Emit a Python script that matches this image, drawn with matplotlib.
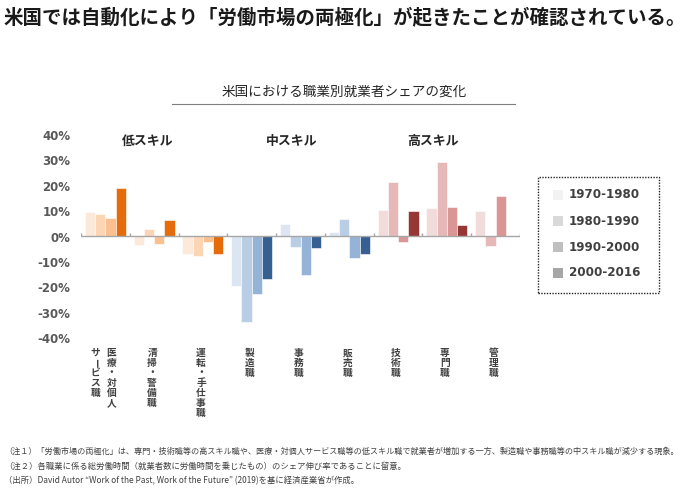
import numpy as np
import matplotlib.pyplot as plt
from matplotlib.patches import Rectangle
from matplotlib.lines import Line2D

plt.rcParams['font.family'] = ['Noto Sans CJK JP', 'DejaVu Sans']

# data (percent change of share)
occupations = ["医療・対個人\nサービス職", "清掃・警備職", "運転・手仕事職",
               "製造職", "事務職", "販売職",
               "技術職", "専門職", "管理職"]
periods = ["1970-1980", "1980-1990", "1990-2000", "2000-2016"]
share_1970_1980 = [9.8, -3.3, -6.9, -19.5, 5.0, 1.8, 10.6, 11.2, 10.1]
share_1980_1990 = [9.0, 3.0, -7.6, -33.6, -4.3, 6.8, 21.6, 29.5, -3.9]
share_1990_2000 = [7.3, -2.9, -2.1, -22.5, -15.3, -8.4, -2.0, 11.6, 15.9]
share_2000_2016 = [19.0, 6.5, -6.9, -16.9, -4.7, -6.9, 10.1, 4.4, 0.0]
skill_groups = ["低スキル", "中スキル", "高スキル"]
y_ticks = [-40, -30, -20, -10, 0, 10, 20, 30, 40]

title = "米国では自動化により「労働市場の両極化」が起きたことが確認されている。"
chart_title = "米国における職業別就業者シェアの変化"
notes = [
    "（注１）「労働市場の両極化」は、専門・技術職等の高スキル職や、医療・対個人サービス職等の低スキル職で就業者が増加する一方、製造職や事務職等の中スキル職が減少する現象。",
    "（注２）各職業に係る総労働時間（就業者数に労働時間を乗じたもの）のシェア伸び率であることに留意。",
    "（出所）David Autor “Work of the Past, Work of the Future” (2019)を基に経済産業省が作成。",
]

# colours: one palette per skill group, light -> dark for the four periods
palette = [
    ["#fde9d9", "#fcd5b5", "#fac090", "#e46c0a"],
    ["#dce6f2", "#b9cde5", "#95b3d7", "#376092"],
    ["#f2dcdb", "#e6b9b8", "#d99694", "#953735"],
]
legend_colors = ["#f2f2f2", "#d9d9d9", "#bfbfbf", "#a6a6a6"]

W, H = 688, 490


def fx(px):
    return px / W


def fy(py):
    return 1 - py / H


fig = plt.figure(figsize=(W / 100, H / 100), dpi=100)
fig.patch.set_facecolor('white')

fig.text(fx(3), fy(17), title, fontsize=14, fontweight='bold', color='#1a1a1a',
         ha='left', va='center')
fig.text(fx(344), fy(92), chart_title, fontsize=9.8, color='#262626',
         ha='center', va='center')
fig.add_artist(Line2D([fx(172), fx(515)], [fy(104), fy(104)],
                      transform=fig.transFigure, color='#7f7f7f', lw=0.8))

ax = fig.add_axes([fx(81), fy(338), (520 - 81) / W, (338 - 135) / H])
series = [share_1970_1980, share_1980_1990, share_1990_2000, share_2000_2016]
x = np.arange(len(occupations))
width = 0.21
for k, vals in enumerate(series):
    colors = [palette[i // 3][k] for i in range(len(occupations))]
    ax.bar(x + (k - 1.5) * width, vals, width, color=colors,
           edgecolor='white', linewidth=0.4, zorder=2)

ax.set_xlim(-0.5, len(occupations) - 0.5)
ax.set_ylim(-40, 40)
for s in ax.spines.values():
    s.set_visible(False)
ax.axhline(0, color='#a6a6a6', lw=1, zorder=3)
ax.vlines(np.arange(len(occupations) + 1) - 0.5, 0, 1.3, color='#a6a6a6', lw=1, zorder=3)
ax.set_xticks([])
ax.set_yticks(y_ticks)
ax.set_yticklabels([f"{v}%" for v in y_ticks], fontsize=8.5, fontweight='bold',
                   color='#595959', family='DejaVu Sans')
ax.tick_params(axis='y', length=0, pad=7.5)

# skill group headings
for name, xpos in zip(skill_groups, [0.87, 3.82, 6.71]):
    ax.text(xpos, 37.6, name, fontsize=9.3, fontweight='bold', color='#262626',
            ha='center', va='center')

# vertical (tategaki) category labels, first line on the right
for i, lab in enumerate(occupations):
    cols = lab.split("\n")
    n = len(cols)
    for c, col in enumerate(cols):
        dx = (-2 + ((n - 1) / 2 - c) * 16) * 0.72
        for j, ch in enumerate(col):
            rot = -90 if ch == "ー" else 0
            ax.annotate(ch, xy=(i, -40), xycoords='data',
                        xytext=(dx, (-15 - 10 * j) * 0.72), textcoords='offset points',
                        fontsize=7, fontweight='bold', color='#404040',
                        ha='center', va='center', rotation=rot,
                        annotation_clip=False)

# legend box with dotted frame
fig.add_artist(Rectangle((fx(538), fy(293)), (659 - 538) / W, (293 - 177) / H,
                         transform=fig.transFigure, fill=False, edgecolor='#262626',
                         lw=1, linestyle=(0, (1, 1))))
for k, (lab, col) in enumerate(zip(periods, legend_colors)):
    yc = 195 + k * 26
    fig.add_artist(Rectangle((fx(553), fy(yc + 5)), 10 / W, 10 / H,
                             transform=fig.transFigure, facecolor=col, edgecolor='none'))
    fig.text(fx(569), fy(yc), lab, fontsize=8.6, fontweight='bold', color='#404040',
             family='DejaVu Sans', ha='left', va='center')

# notes; shrink the long first line so it fits the width
renderer = fig.canvas.get_renderer()
for k, line in enumerate(notes):
    t = fig.text(fx(4), fy(451 + 15 * k), line, fontsize=6, color='#404040',
                 ha='left', va='center')
    w = t.get_window_extent(renderer).width
    if w > 679:
        t.set_fontsize(6 * 679 / w)

fig.savefig('out.png', dpi=100)
